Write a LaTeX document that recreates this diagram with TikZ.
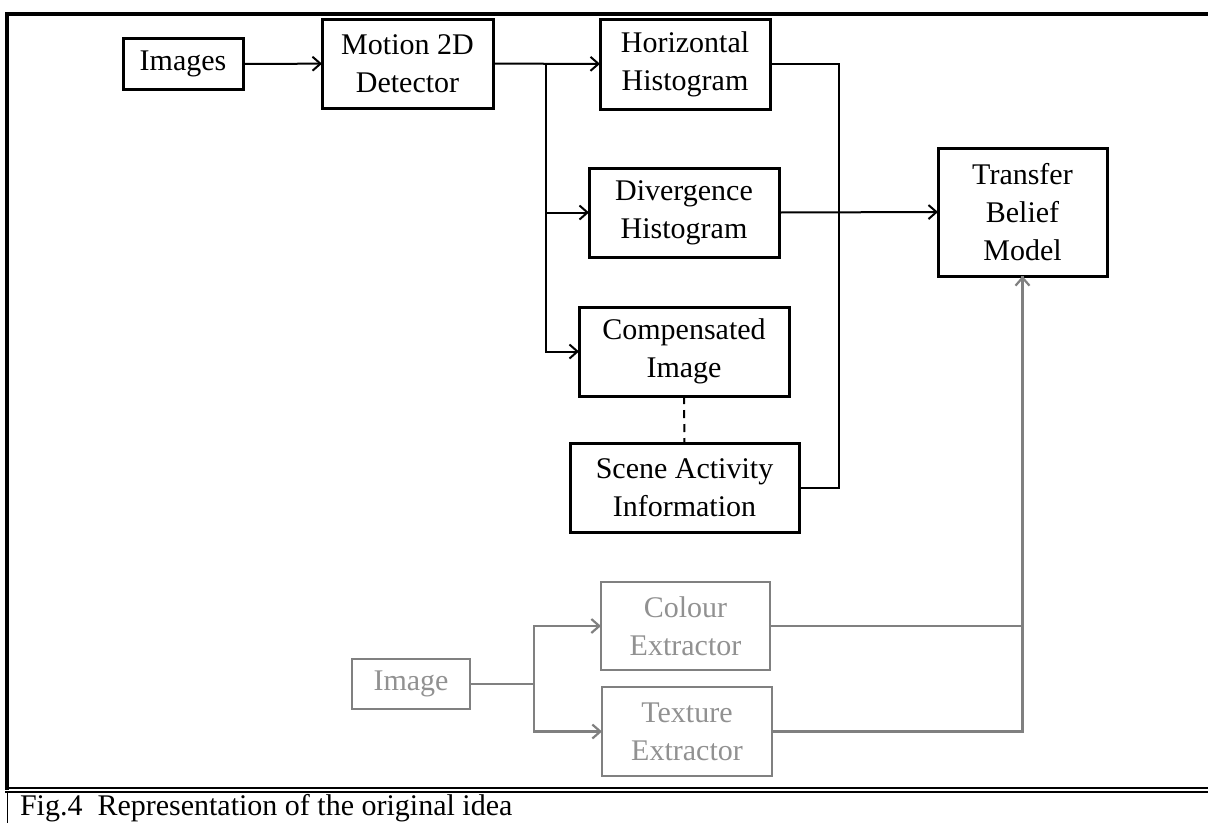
\documentclass[tikz,border=0pt]{standalone}
\usepackage{fontspec}
\setmainfont{Liberation Serif}
\usetikzlibrary{arrows.meta}
\definecolor{boxgray}{RGB}{128,128,128}
\definecolor{textgray}{RGB}{145,145,145}
\begin{document}
\begin{tikzpicture}[x=1pt, y=-1pt,
  font=\fontsize{30}{38}\selectfont,
  every node/.style={align=center, inner sep=0pt, outer sep=0pt},
  box/.style={draw=black, line width=3pt},
  graybox/.style={draw=boxgray, text=textgray, line width=2.2pt},
  link/.style={draw=black, line width=2pt},
  graylink/.style={draw=boxgray, line width=2.2pt},
  tip/.style={-{Straight Barb[length=8pt, width=14pt]}}]
  %% page size
  \useasboundingbox (0,0) rectangle (1208,823);
  %% frame round the figure
  \draw[line width=4pt] (1208,14) -| (7,790);
  \draw[line width=2pt] (5,788) -- (1208,788);
  \draw[line width=2pt] (5,792) -- (1208,792);
  \draw[line width=1.2pt] (7.5,792) -- (7.5,823);
  \node[anchor=base west] (caption) at (20,815) {Fig.4\ \ Representation of the original idea};
  %% motion branch
  \node[box, minimum width=120pt, minimum height=51pt] (images) at (183,64) {Images};
  \node[box, minimum width=171pt, minimum height=89pt] (motion) at (407.5,63.5) {Motion 2D\\Detector};
  \node[box, minimum width=170pt, minimum height=90pt] (horiz) at (685,64) {Horizontal\\Histogram};
  \node[box, minimum width=190pt, minimum height=89pt] (diverg) at (684,212.5) {Divergence\\Histogram};
  \node[box, minimum width=210pt, minimum height=89pt] (comp) at (684,351.5) {Compensated\\Image};
  \node[box, minimum width=229pt, minimum height=89pt] (scene) at (684.5,487.5) {Scene Activity\\Information};
  \node[box, minimum width=169pt, minimum height=128pt] (tbm) at (1022.5,212) {Transfer\\Belief\\Model};
  %% colour / texture branch
  \node[graybox, minimum width=118pt, minimum height=50pt] (image) at (411,684) {Image};
  \node[graybox, minimum width=169pt, minimum height=88pt] (colour) at (685.5,626) {Colour\\Extractor};
  \node[graybox, minimum width=170pt, minimum height=89pt] (texture) at (687,731.5) {Texture\\Extractor};
  %% junctions
  \coordinate (split) at (546,64);
  \coordinate (join) at (839,212);
  \coordinate (fork) at (534,684);
  %% connectors
  \draw[link, tip] (images) -- (motion);
  \draw[link, tip] (motion) -- (horiz);
  \draw[link, tip] (split |- diverg.west) -- (diverg.west);
  \draw[link, tip] (split) |- (comp.west);
  \draw[link] (horiz.east) -| (join);
  \draw[link] (scene.east) -| (join);
  \draw[link, tip] (diverg.east) -- (tbm.west);
  \draw[link, dashed, dash pattern=on 8pt off 6pt] (comp.south) -- (scene.north);
  \draw[graylink] (image.east) -- (fork);
  \draw[graylink, tip] (fork) |- (colour.west);
  \draw[graylink, tip] (fork) |- (texture.west);
  \draw[graylink] (colour.east) -| (tbm.south);
  \draw[graylink, tip] (texture.east) -| (tbm.south);
\end{tikzpicture}
\end{document}
